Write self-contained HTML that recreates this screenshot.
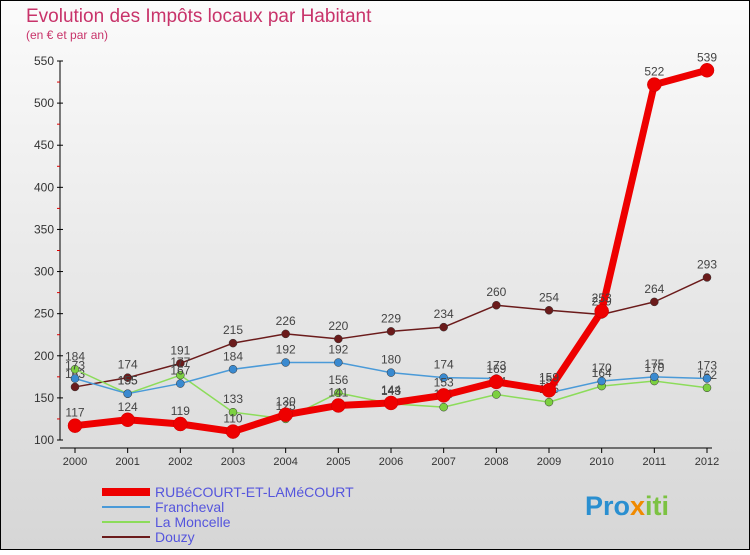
<!DOCTYPE html>
<html><head><meta charset="utf-8"><style>
body{margin:0}
#c{width:750px;height:550px;position:relative;font-family:"Liberation Sans",sans-serif}
svg text{font-family:"Liberation Sans",sans-serif}
</style></head><body>
<div id="c">
<svg id="s" width="750" height="550" xmlns="http://www.w3.org/2000/svg">
<defs><linearGradient id="bg" x1="0" y1="0" x2="0" y2="1"><stop offset="0" stop-color="#fbfbfb"/><stop offset="1" stop-color="#d6d6d6"/></linearGradient></defs>
<rect x="0.5" y="0.5" width="749" height="549" fill="url(#bg)" stroke="#000"/>
<text x="26" y="22" font-size="19" fill="#c8336a">Evolution des Impôts locaux par Habitant</text>
<text x="26" y="39" font-size="12" fill="#c8336a">(en € et par an)</text>
<g id="axes"></g><g id="series"></g>
<text x="585" y="515" font-size="27" font-weight="bold" fill="#2a8fd0">Pro<tspan fill="#f08a00">x</tspan><tspan fill="#7cc242">iti</tspan></text>
</svg>
</div>
<script>
const years=["2000","2001","2002","2003","2004","2005","2006","2007","2008","2009","2010","2011","2012"];
const yTicks=[100,150,200,250,300,350,400,450,500,550];
const rubecourt=[117,124,119,110,130,141,144,153,169,159,253,522,539];
const francheval=[173,155,167,184,192,192,180,174,173,156,170,175,173];
const moncelle=[184,155,177,133,125,156,143,139,154,145,164,170,162];
const douzy=[163,174,191,215,226,220,229,234,260,254,249,264,293];
const NS="http://www.w3.org/2000/svg";
const X=i=>75+i*(632/12);
const Y=v=>440-(v-100)*(379/450);
function mk(tag,attrs,parent,name){const e=document.createElementNS(NS,tag);for(const k in attrs)e.setAttribute(k,attrs[k]);


parent.appendChild(e);return e;}
const ax=document.getElementById('axes');
mk('line',{x1:60,y1:Y(550),x2:60,y2:Y(100)+0,stroke:'#000'},ax,'y-axis');
mk('line',{x1:60,y1:448,x2:712,y2:448,stroke:'#000'},ax,'x-axis');
yTicks.forEach(v=>{mk('line',{x1:57,y1:Y(v),x2:63,y2:Y(v),stroke:'#000'},ax,'y-tick');
const t=mk('text',{x:54,y:Y(v)+4,'font-size':12,'text-anchor':'end',fill:'#333'},ax,'y-tick-label');t.textContent=v;
if(v<550)mk('line',{x1:57,y1:Y(v+25),x2:60,y2:Y(v+25),stroke:'#d00'},ax,'y-minor-tick');});
years.forEach((y,i)=>{mk('line',{x1:X(i),y1:448,x2:X(i),y2:453,stroke:'#000'},ax,'x-tick');
const t=mk('text',{x:X(i),y:465,'font-size':11,'text-anchor':'middle',fill:'#333'},ax,'x-tick-label');t.textContent=y;});
const sg=document.getElementById('series');
const defs=[[douzy,'#6b1b1b','#6b1b1b',1.5,4,'douzy'],[moncelle,'#8cdc5a','#7cd040',1.5,4,'la-moncelle'],[francheval,'#4a9ad8','#3a8ad0',1.5,4,'francheval'],[rubecourt,'#ee0000','#ee0000',7,7,'rubecourt']];
defs.forEach(([d,lc,pc,w,r,n])=>{
mk('polyline',{points:d.map((v,i)=>X(i)+','+Y(v)).join(' '),fill:'none',stroke:lc,'stroke-width':w,'stroke-linejoin':'round'},sg,n+'-line');
d.forEach((v,i)=>{mk('circle',{cx:X(i),cy:Y(v),r:r,fill:pc,stroke:n=='rubecourt'?'#c00':'#333','stroke-width':0.5},sg,n+'-point');
const t=mk('text',{x:X(i),y:Y(v)-9,'font-size':12,'text-anchor':'middle',fill:'#444'},sg,n+'-value-label');t.textContent=v;});
});
const leg=[['RUBéCOURT-ET-LAMéCOURT','#ee0000',8],['Francheval','#4a9ad8',2],['La Moncelle','#8cdc5a',2],['Douzy','#6b1b1b',2]];
leg.forEach(([l,c,w],i)=>{const y=492+i*15;
mk('line',{x1:102,y1:y,x2:150,y2:y,stroke:c,'stroke-width':w},sg,'legend-swatch');
const t=mk('text',{x:155,y:y+5,'font-size':14,fill:'#5555dd'},sg,'legend-entry');t.textContent=l;});
</script>
</body></html>
